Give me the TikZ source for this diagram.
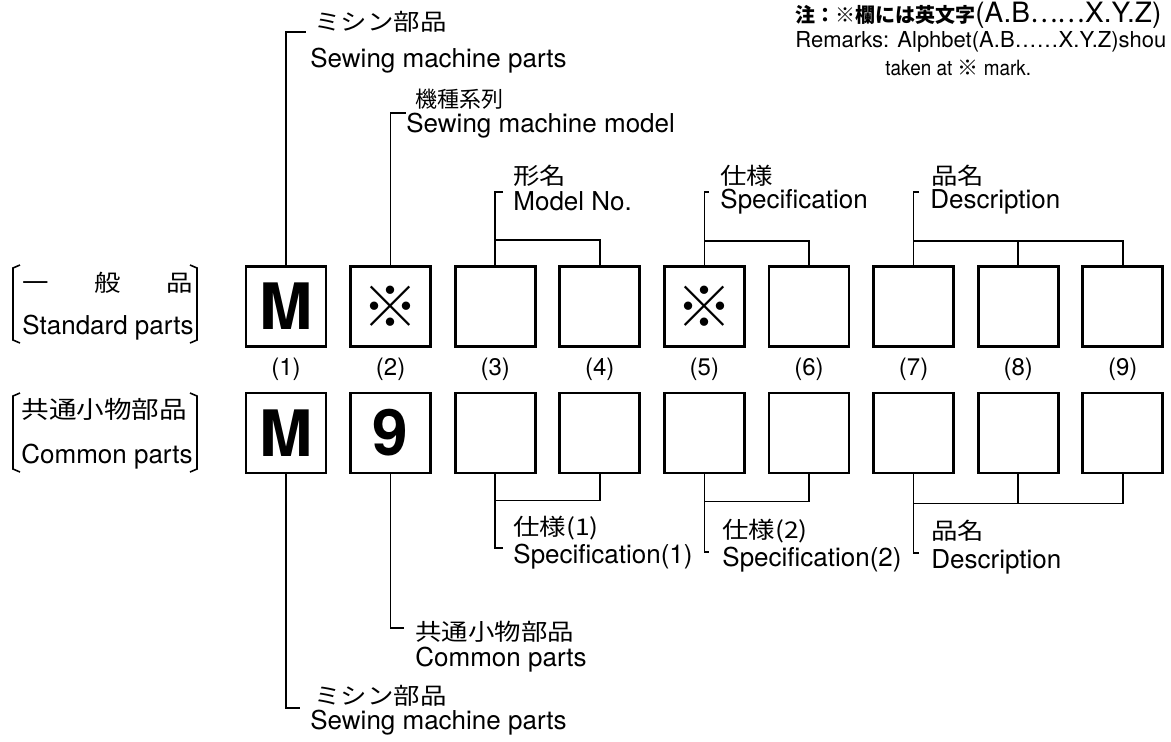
\documentclass[tikz,border=0pt]{standalone}
\usepackage{fontspec}
\setmainfont{TeX Gyre Heros}
\newfontfamily\jp[FakeStretch=1.15]{Noto Sans CJK JP}
\newfontfamily\jpplain{Noto Sans CJK JP}
\usetikzlibrary{positioning}

\begin{document}
\begin{tikzpicture}[x=0.5pt, y=-0.5pt,
        node distance=10.9pt,
        partbox/.style={draw, line width=1.4pt, minimum size=40pt, inner sep=0pt, font=\bfseries\fontsize{32}{32}\selectfont},
        markbox/.style={partbox, font=\jpplain\bfseries\fontsize{28}{28}\selectfont},
        boxnum/.style={inner sep=0pt, font=\fontsize{12}{12}\selectfont},
        entext/.style={anchor=west, inner sep=0pt, font=\fontsize{13}{13}\selectfont},
        jptext/.style={anchor=west, inner sep=0pt, font=\jp\fontsize{11.5}{11.5}\selectfont},
        notetext/.style={anchor=west, inner sep=0pt, font=\fontsize{10.5}{10.5}\selectfont},
        leader/.style={line width=0.8pt},
    ]
    \useasboundingbox (0,0) rectangle (1171,741);

    %Boxes: standard parts
    \node[partbox] (std1) at (286,306.5) {M};
    \node[markbox] (std2) [right=of std1] {※};
    \node[partbox] (std3) [right=of std2] {};
    \node[partbox] (std4) [right=of std3] {};
    \node[markbox] (std5) [right=of std4] {※};
    \node[partbox] (std6) [right=of std5] {};
    \node[partbox] (std7) [right=of std6] {};
    \node[partbox] (std8) [right=of std7] {};
    \node[partbox] (std9) [right=of std8] {};

    %Boxes: common parts
    \node[partbox] (com1) [below=21.85pt of std1] {M};
    \node[partbox] (com2) [below=21.85pt of std2] {9};
    \node[partbox] (com3) [below=21.85pt of std3] {};
    \node[partbox] (com4) [below=21.85pt of std4] {};
    \node[partbox] (com5) [below=21.85pt of std5] {};
    \node[partbox] (com6) [below=21.85pt of std6] {};
    \node[partbox] (com7) [below=21.85pt of std7] {};
    \node[partbox] (com8) [below=21.85pt of std8] {};
    \node[partbox] (com9) [below=21.85pt of std9] {};

    %Digit numbers
    \node[boxnum] (num1) [below=5pt of std1] {(1)};
    \node[boxnum] (num2) [below=5pt of std2] {(2)};
    \node[boxnum] (num3) [below=5pt of std3] {(3)};
    \node[boxnum] (num4) [below=5pt of std4] {(4)};
    \node[boxnum] (num5) [below=5pt of std5] {(5)};
    \node[boxnum] (num6) [below=5pt of std6] {(6)};
    \node[boxnum] (num7) [below=5pt of std7] {(7)};
    \node[boxnum] (num8) [below=5pt of std8] {(8)};
    \node[boxnum] (num9) [below=5pt of std9] {(9)};

    %Row labels
    \node[jptext, text width=85.5pt] (gen_jp) at (22,283) {一\hfill 般\hfill 品};
    \node[entext] (gen_en) at (22,328) {Standard parts};
    \node[jptext, font=\jp\fontsize{12}{12}\selectfont] (cmn_jp) at (21,409) {共通小物部品};
    \node[entext] (cmn_en) at (21,457) {Common parts};
    \draw[leader] (20,265) -- (13,268) -- (13,340) -- (20,343);
    \draw[leader] (190,265) -- (197,268) -- (197,340) -- (190,343);
    \draw[leader] (20,393) -- (13,396) -- (13,469) -- (20,472);
    \draw[leader] (190,393) -- (197,396) -- (197,469) -- (190,472);

    %Labels above
    \node[jptext] (mparts_jp) at (314,22) {ミシン部品};
    \node[entext] (mparts_en) at (310,61) {Sewing machine parts};
    \node[jptext, font=\jpplain\fontsize{11}{11}\selectfont] (series_jp) at (415,99) {機種系列};
    \node[entext] (series_en) at (406,126) {Sewing machine model};
    \node[jptext] (model_jp) at (513,176) {形名};
    \node[entext] (model_en) at (513,201) {Model No.};
    \node[jptext] (spec_jp) at (720,176) {仕様};
    \node[entext] (spec_en) at (720,202) {Specification};
    \node[jptext] (desc_jp) at (931,176) {品名};
    \node[entext] (desc_en) at (930,202) {Description};

    %Labels below
    \node[jptext] (bm_jp) at (314,696) {ミシン部品};
    \node[entext] (bm_en) at (310,723) {Sewing machine parts};
    \node[jptext] (bc_jp) at (415,632) {共通小物部品};
    \node[entext] (bc_en) at (415,660) {Common parts};
    \node[jptext] (spec1_jp) at (513,528) {仕様(1)};
    \node[entext] (spec1_en) at (513,557) {Specification(1)};
    \node[jptext] (spec2_jp) at (722,531) {仕様(2)};
    \node[entext] (spec2_en) at (722,560) {Specification(2)};
    \node[jptext] (bd_jp) at (931,531) {品名};
    \node[entext] (bd_en) at (931,562) {Description};

    %Remarks
    \node[notetext] (note_jp) at (795,15) {{\jpplain\bfseries\fontsize{10}{10}\selectfont 注：※欄には英文字}{\fontsize{14}{14}\selectfont (A.B}{\jpplain\fontsize{13}{13}\selectfont ……}{\fontsize{14}{14}\selectfont X.Y.Z)}};
    \node[notetext, font=\fontsize{11}{11}\selectfont] (note_en) at (795,42) {Remarks: Alphbet(A.B……X.Y.Z)shou};
    \node[notetext] (note_en2) at (885,68) {\addfontfeature{FakeStretch=0.9}taken at {\jpplain ※} mark.};

    %Leader ends
    \coordinate (mparts_tick) at (306,32);
    \coordinate (series_tick) at (406,113);
    \coordinate (model_tick)  at (503,192);
    \coordinate (spec_tick)   at (709,192);
    \coordinate (desc_tick)   at (919,192);
    \coordinate (bm_tick)     at (300,708);
    \coordinate (bc_tick)     at (404,628);
    \coordinate (spec1_tick)  at (503,548);
    \coordinate (spec2_tick)  at (709,552);
    \coordinate (bd_tick)     at (919,553);

    %Leaders: standard parts
    \draw[leader] (std1.north) |- (mparts_tick);
    \draw[leader] (std2.north) |- (series_tick);
    \draw[leader] (model_tick) -| (std3.north);
    \draw[leader] (std4.north) -- ++(0,-25) -| (std3.north);
    \draw[leader] (spec_tick) -| (std5.north);
    \draw[leader] (std6.north) -- ++(0,-24) -| (std5.north);
    \draw[leader] (desc_tick) -| (std7.north);
    \draw[leader] (std9.north) -- ++(0,-24) -| (std7.north);
    \draw[leader] (std8.north) -- ++(0,-24);

    %Leaders: common parts
    \draw[leader] (com1.south) |- (bm_tick);
    \draw[leader] (com2.south) |- (bc_tick);
    \draw[leader] (com3.south) |- (spec1_tick);
    \draw[leader] (com4.south) -- ++(0,26) -| (com3.south);
    \draw[leader] (com5.south) |- (spec2_tick);
    \draw[leader] (com6.south) -- ++(0,27) -| (com5.south);
    \draw[leader] (com7.south) |- (bd_tick);
    \draw[leader] (com9.south) -- ++(0,29) -| (com7.south);
    \draw[leader] (com8.south) -- ++(0,29);
\end{tikzpicture}
\end{document}
